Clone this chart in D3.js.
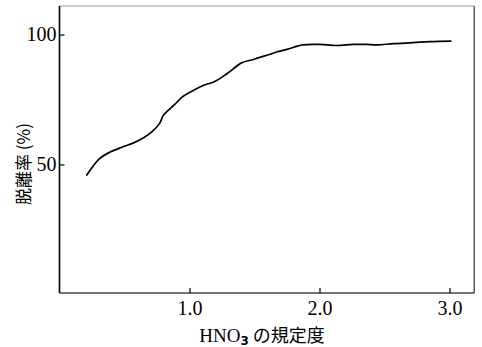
<!DOCTYPE html>
<html>
<head>
<meta charset="utf-8">
<script src="https://cdn.jsdelivr.net/npm/d3@7"></script>
<style>
  html, body { margin: 0; padding: 0; background: #fff; }
  svg { display: block; }
</style>
</head>
<body>
<div id="chart"></div>
<script>
// Data
const normality = [0.21, 0.31, 0.39, 0.49, 0.57, 0.65, 0.71, 0.77, 0.80, 0.88, 0.95, 1.03, 1.11, 1.19, 1.29, 1.40, 1.47, 1.54, 1.62, 1.67, 1.75, 1.87, 2.00, 2.13, 2.26, 2.36, 2.44, 2.57, 2.72, 2.85, 3.01];
const desorption = [45.9, 52.3, 54.8, 56.8, 58.3, 60.4, 62.5, 65.8, 69.0, 72.8, 76.2, 78.5, 80.5, 81.8, 85.0, 89.1, 90.1, 91.2, 92.4, 93.3, 94.3, 96.0, 96.2, 95.8, 96.2, 96.2, 96.0, 96.5, 96.9, 97.3, 97.5];
const xTicks = [1.0, 2.0, 3.0];
const yTicks = [50, 100];
const xTickLabels = ["1.0", "2.0", "3.0"];
const yTickLabels = ["50", "100"];
const xTitleMain = "HNO";
const xTitleSub = "3";
const xTitleRest = " の規定度";
const yTitle = "脱離率 (%)";

const W = 482, H = 347;
const svg = d3.select("#chart").append("svg").attr("width", W).attr("height", H);

const x = d3.scaleLinear().domain([0, 3.19]).range([59.5, 474.2]);
const y = d3.scaleLinear().domain([0.5, 111]).range([293, 6]);

const serif = "'Liberation Serif', 'DejaVu Serif', serif";
const cjk = "'Noto Sans CJK JP', 'Noto Sans CJK SC', sans-serif";

// frame
const [x0, x1] = x.range();
const [yb, yt] = y.range();
svg.append("line").attr("x1", x0).attr("x2", x1).attr("y1", yt).attr("y2", yt)
  .attr("stroke", "#999").attr("stroke-width", 1);
svg.append("line").attr("x1", x1).attr("x2", x1).attr("y1", yt).attr("y2", yb)
  .attr("stroke", "#333").attr("stroke-width", 1.2);
svg.append("line").attr("x1", x0).attr("x2", x1).attr("y1", yb).attr("y2", yb)
  .attr("stroke", "#444").attr("stroke-width", 1.5);
svg.append("line").attr("x1", x0).attr("x2", x0).attr("y1", yt).attr("y2", yb)
  .attr("stroke", "#000").attr("stroke-width", 1.6);

// y ticks
const yAxis = d3.axisLeft(y).tickValues(yTicks).tickSize(-5)
  .tickFormat((d, i) => yTickLabels[i]).tickPadding(3);
const gy = svg.append("g").attr("transform", `translate(${x0},0)`).call(yAxis);
gy.select(".domain").remove();
gy.selectAll(".tick line").attr("stroke", "#000").attr("stroke-width", 1.2);
gy.selectAll(".tick text").attr("font-family", serif).attr("font-size", 20)
  .attr("fill", "#000").attr("x", -3);

// x ticks
const xAxis = d3.axisBottom(x).tickValues(xTicks).tickSize(-5)
  .tickFormat((d, i) => xTickLabels[i]).tickPadding(8);
const gx = svg.append("g").attr("transform", `translate(0,${yb})`).call(xAxis);
gx.select(".domain").remove();
gx.selectAll(".tick line").attr("stroke", "#000").attr("stroke-width", 1.2);
gx.selectAll(".tick text").attr("font-family", serif).attr("font-size", 20)
  .attr("fill", "#000").attr("dy", "0.71em").attr("y", 8);

// curve
const pts = normality.map((d, i) => [d, desorption[i]]);
const line = d3.line().x(d => x(d[0])).y(d => y(d[1])).curve(d3.curveCatmullRom);
svg.append("path").datum(pts).attr("d", line)
  .attr("fill", "none").attr("stroke", "#000").attr("stroke-width", 1.7)
  .attr("stroke-linejoin", "round").attr("stroke-linecap", "round");

// x title
const xt = svg.append("text").attr("x", 262).attr("y", 342)
  .attr("text-anchor", "middle").attr("font-size", 19).attr("fill", "#000");
xt.append("tspan").attr("font-family", serif).text(xTitleMain);
xt.append("tspan").attr("font-family", "'DejaVu Sans', sans-serif").attr("font-weight", "bold")
  .attr("font-size", 12).attr("dy", 3).text(xTitleSub);
xt.append("tspan").attr("font-family", cjk).attr("font-size", 18).attr("dy", -3).text(xTitleRest);

// y title
svg.append("text").attr("transform", "translate(30,164) rotate(-90)")
  .attr("text-anchor", "middle").attr("font-family", cjk).attr("font-size", 17)
  .attr("fill", "#000").text(yTitle);
</script>
</body>
</html>
